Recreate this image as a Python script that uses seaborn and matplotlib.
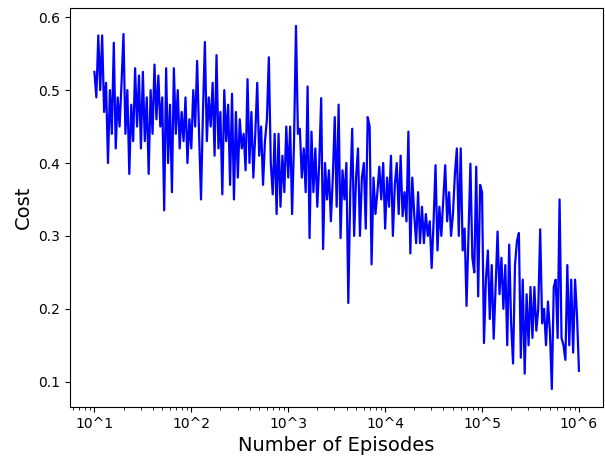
import numpy as np
import matplotlib
matplotlib.use('Agg')
import matplotlib.pyplot as plt
import seaborn as sns
import pandas as pd

# costs, one list per decade of episodes
cost_d1 = [0.525, 0.49, 0.575, 0.50, 0.575, 0.47, 0.51, 0.40, 0.50, 0.44,
           0.565, 0.42, 0.49, 0.45, 0.51, 0.577, 0.44, 0.50, 0.385, 0.48,
           0.43, 0.53, 0.45, 0.52, 0.42, 0.525, 0.43, 0.49, 0.385, 0.50,
           0.44, 0.535, 0.46, 0.52, 0.45, 0.49, 0.335, 0.53, 0.40, 0.48,
           0.36, 0.53, 0.44, 0.50, 0.42, 0.47, 0.43, 0.49, 0.40, 0.46]
cost_d2 = [0.42, 0.50, 0.45, 0.54, 0.44, 0.35, 0.47, 0.566, 0.43, 0.49,
           0.45, 0.51, 0.41, 0.548, 0.42, 0.47, 0.357, 0.50, 0.43, 0.48,
           0.37, 0.495, 0.35, 0.47, 0.38, 0.46, 0.42, 0.44, 0.39, 0.515,
           0.40, 0.47, 0.38, 0.44, 0.51, 0.41, 0.45, 0.37, 0.43, 0.46,
           0.545, 0.40, 0.357, 0.44, 0.33, 0.44, 0.34, 0.41, 0.36, 0.45]
cost_d3 = [0.38, 0.45, 0.33, 0.43, 0.588, 0.44, 0.447, 0.38, 0.42, 0.36,
           0.505, 0.297, 0.443, 0.36, 0.42, 0.34, 0.40, 0.489, 0.282, 0.40,
           0.35, 0.39, 0.32, 0.38, 0.463, 0.34, 0.48, 0.297, 0.39, 0.35,
           0.40, 0.208, 0.36, 0.447, 0.30, 0.38, 0.42, 0.30, 0.38, 0.40,
           0.31, 0.463, 0.45, 0.261, 0.38, 0.33, 0.36, 0.395, 0.35, 0.40]
cost_d4 = [0.31, 0.38, 0.34, 0.41, 0.30, 0.37, 0.40, 0.33, 0.41, 0.327,
           0.36, 0.32, 0.443, 0.276, 0.38, 0.33, 0.29, 0.36, 0.29, 0.34,
           0.29, 0.33, 0.30, 0.32, 0.256, 0.32, 0.397, 0.28, 0.34, 0.30,
           0.35, 0.397, 0.32, 0.36, 0.30, 0.33, 0.385, 0.42, 0.30, 0.42,
           0.28, 0.31, 0.204, 0.30, 0.399, 0.27, 0.25, 0.395, 0.217, 0.37]
cost_d5 = [0.36, 0.153, 0.24, 0.28, 0.186, 0.26, 0.159, 0.23, 0.306, 0.22,
           0.27, 0.20, 0.26, 0.15, 0.288, 0.18, 0.125, 0.26, 0.293, 0.304,
           0.133, 0.24, 0.111, 0.22, 0.15, 0.23, 0.16, 0.23, 0.17, 0.20,
           0.309, 0.18, 0.20, 0.15, 0.21, 0.17, 0.09, 0.23, 0.24, 0.16,
           0.35, 0.16, 0.15, 0.13, 0.26, 0.15, 0.24, 0.14, 0.24, 0.19,
           0.115]

cost = cost_d1 + cost_d2 + cost_d3 + cost_d4 + cost_d5
episodes = np.logspace(1, 6, len(cost))

tick_pos = [10, 100, 1000, 10000, 100000, 1000000]
tick_labels = ['10^1', '10^2', '10^3', '10^4', '10^5', '10^6']

df = pd.DataFrame({'episodes': episodes, 'cost': cost})

fig = plt.figure(figsize=(6.05, 4.58), dpi=100)
ax = fig.add_axes([0.116, 0.111, 0.881, 0.872])
sns.lineplot(data=df, x='episodes', y='cost', color='blue', linewidth=1.6, ax=ax)
ax.set_xscale('log')
ax.set_xticks(tick_pos)
ax.set_xticklabels(tick_labels)
ax.set_xlabel('Number of Episodes', fontsize=14)
ax.set_ylabel('Cost', fontsize=14)

fig.savefig('out.png', dpi=100)
